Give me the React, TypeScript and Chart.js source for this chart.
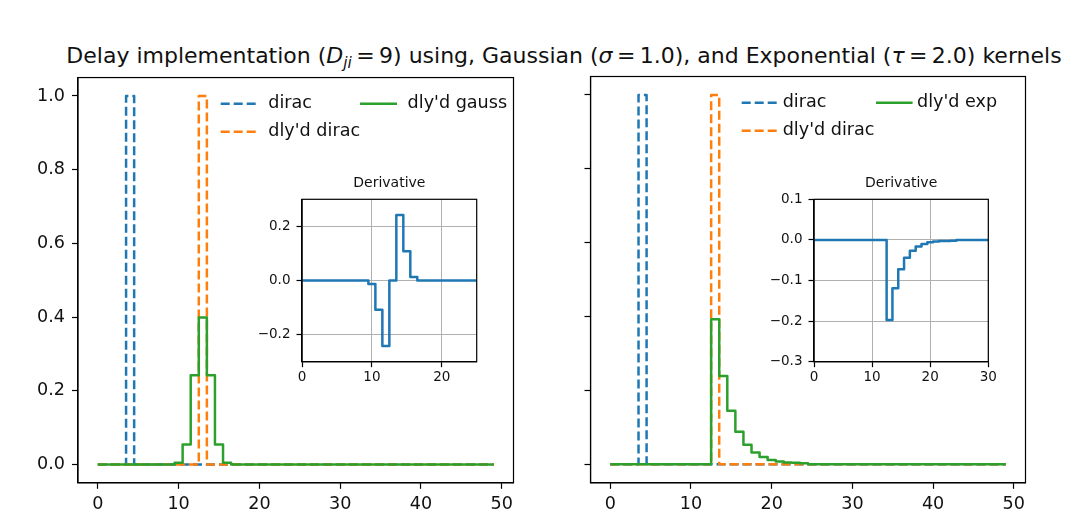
import React, { useEffect, useRef } from "react";
import { Chart, registerables } from "chart.js";

Chart.register(...registerables);

// ---------- data ----------
const steps = [
  0, 1, 2, 3, 4, 5, 6, 7, 8, 9,
  10, 11, 12, 13, 14, 15, 16, 17, 18, 19,
  20, 21, 22, 23, 24, 25, 26, 27, 28, 29,
  30, 31, 32, 33, 34, 35, 36, 37, 38, 39,
  40, 41, 42, 43, 44, 45, 46, 47, 48, 49,
];

const dirac = [
  0, 0, 0, 0, 1, 0, 0, 0, 0, 0,
  0, 0, 0, 0, 0, 0, 0, 0, 0, 0,
  0, 0, 0, 0, 0, 0, 0, 0, 0, 0,
  0, 0, 0, 0, 0, 0, 0, 0, 0, 0,
  0, 0, 0, 0, 0, 0, 0, 0, 0, 0,
];

const dlyDirac = [
  0, 0, 0, 0, 0, 0, 0, 0, 0, 0,
  0, 0, 0, 1, 0, 0, 0, 0, 0, 0,
  0, 0, 0, 0, 0, 0, 0, 0, 0, 0,
  0, 0, 0, 0, 0, 0, 0, 0, 0, 0,
  0, 0, 0, 0, 0, 0, 0, 0, 0, 0,
];

const dlyGauss = [
  0, 0, 0, 0, 0, 0, 0, 0, 0, 0,
  0.0044, 0.054, 0.242, 0.399, 0.242, 0.054, 0.0044, 0, 0, 0,
  0, 0, 0, 0, 0, 0, 0, 0, 0, 0,
  0, 0, 0, 0, 0, 0, 0, 0, 0, 0,
  0, 0, 0, 0, 0, 0, 0, 0, 0, 0,
];

const dlyExp = [
  0, 0, 0, 0, 0, 0, 0, 0, 0, 0,
  0, 0, 0, 0.393, 0.239, 0.145, 0.088, 0.053, 0.032, 0.02,
  0.012, 0.008, 0.005, 0.004, 0.003, 0, 0, 0, 0, 0,
  0, 0, 0, 0, 0, 0, 0, 0, 0, 0,
  0, 0, 0, 0, 0, 0, 0, 0, 0, 0,
];

const gaussDeriv = [
  0, 0, 0, 0, 0, 0, 0, 0, 0, 0,
  -0.013, -0.108, -0.242, 0, 0.242, 0.108, 0.013, 0, 0, 0,
  0, 0, 0, 0, 0, 0, 0, 0, 0, 0,
  0, 0, 0, 0, 0, 0, 0, 0, 0, 0,
  0, 0, 0, 0, 0, 0, 0, 0, 0, 0,
];

const expDeriv = [
  0, 0, 0, 0, 0, 0, 0, 0, 0, 0,
  0, 0, 0, -0.197, -0.119, -0.072, -0.044, -0.027, -0.016, -0.01,
  -0.006, -0.004, -0.003, -0.003, -0.002, 0, 0, 0, 0, 0,
  0, 0, 0, 0, 0, 0, 0, 0, 0, 0,
  0, 0, 0, 0, 0, 0, 0, 0, 0, 0,
];

const mainXTicks = [0, 10, 20, 30, 40, 50];
const mainYTicks = [0, 0.2, 0.4, 0.6, 0.8, 1.0];
const gaussInsetXTicks = [0, 10, 20];
const gaussInsetYTicks = [-0.2, 0, 0.2];
const expInsetXTicks = [0, 10, 20, 30];
const expInsetYTicks = [-0.3, -0.2, -0.1, 0, 0.1];

// ---------- styling ----------
const FONT = "'DejaVu Sans', 'Liberation Sans', sans-serif";
const BLUE = "#1f77b4";
const ORANGE = "#ff7f0e";
const GREEN = "#2ca02c";
const TEXT = "#111";
const DASH = [9, 4];

const fmt = (v: number) => (v < 0 ? "\u2212" : "") + Math.abs(v).toFixed(1);

function series(label: string, values: number[], color: string, dashed: boolean, order: number) {
  return {
    label,
    data: steps.map((x, i) => ({ x, y: values[i] })),
    borderColor: color,
    backgroundColor: color,
    borderWidth: 2.5,
    borderDash: dashed ? DASH : [],
    borderJoinStyle: "round",
    borderCapStyle: "butt",
    stepped: "middle",
    pointRadius: 0,
    fill: false,
    tension: 0,
    order,
  };
}

const spinesPlugin = {
  id: "spines",
  beforeDraw(chart: any, _a: any, opts: any) {
    if (!opts || !opts.fillWhite) return;
    const { ctx, chartArea: a } = chart;
    ctx.save();
    ctx.fillStyle = "#fff";
    ctx.fillRect(a.left, a.top, a.right - a.left, a.bottom - a.top);
    ctx.restore();
  },
  afterDatasetsDraw(chart: any) {
    const { ctx, chartArea: a } = chart;
    ctx.save();
    ctx.strokeStyle = "#000";
    ctx.lineWidth = 1.2;
    ctx.strokeRect(a.left, a.top, a.right - a.left, a.bottom - a.top);
    ctx.restore();
  },
};

const legendPlugin = {
  id: "mplLegend",
  afterDatasetsDraw(chart: any, _a: any, opts: any) {
    if (!opts || !opts.items) return;
    const { ctx, chartArea: a } = chart;
    opts.items.forEach((it: any) => {
      const ds = chart.data.datasets[it.dataset];
      const x0 = a.left + opts.cols[it.col];
      const y = a.top + opts.rows[it.row];
      ctx.save();
      ctx.strokeStyle = ds.borderColor;
      ctx.lineWidth = ds.borderWidth;
      ctx.setLineDash(ds.borderDash || []);
      ctx.lineCap = "butt";
      ctx.beginPath();
      ctx.moveTo(x0, y);
      ctx.lineTo(x0 + opts.handle, y);
      ctx.stroke();
      ctx.setLineDash([]);
      ctx.fillStyle = TEXT;
      ctx.font = `${opts.fontSize}px ${FONT}`;
      ctx.textBaseline = "middle";
      ctx.textAlign = "left";
      ctx.fillText(ds.label, x0 + opts.textOffset, y);
      ctx.restore();
    });
  },
};

function axis(opts: {
  min: number;
  max: number;
  ticks: number[];
  size: number;
  isX: boolean;
  fontSize: number;
  tickLen: number;
  pad: number;
  showLabels: boolean;
  grid: boolean;
  format: (v: number) => string;
}) {
  return {
    type: "linear",
    min: opts.min,
    max: opts.max,
    afterBuildTicks: (s: any) => {
      s.ticks = opts.ticks.map((v) => ({ value: v }));
    },
    afterFit: (s: any) => {
      if (opts.isX) s.height = opts.size;
      else s.width = opts.size;
    },
    grid: {
      display: true,
      drawOnChartArea: opts.grid,
      drawTicks: true,
      tickLength: opts.tickLen,
      color: "#b0b0b0",
      lineWidth: 1,
      tickColor: "#000",
      tickWidth: 1.2,
    },
    border: { display: true, color: "#000", width: 1.2 },
    ticks: {
      display: opts.showLabels,
      autoSkip: false,
      maxRotation: 0,
      minRotation: 0,
      padding: opts.pad,
      color: TEXT,
      font: { family: FONT, size: opts.fontSize },
      callback: (v: any) => opts.format(Number(v)),
    },
  };
}

function mainConfig(p: {
  datasets: any[];
  yWidth: number;
  padRight: number;
  showY: boolean;
  legend: any;
}) {
  return {
    type: "line",
    data: { datasets: p.datasets },
    plugins: [spinesPlugin, legendPlugin],
    options: {
      animation: false,
      responsive: false,
      devicePixelRatio: 1,
      events: [],
      layout: { padding: { left: 0, top: 16.5, right: p.padRight, bottom: 0 } },
      plugins: {
        legend: { display: false },
        tooltip: { enabled: false },
        title: { display: false },
        mplLegend: p.legend,
        spines: { fillWhite: false },
      },
      scales: {
        x: axis({
          min: -2.45,
          max: 51.45,
          ticks: mainXTicks,
          size: 48.2,
          isX: true,
          fontSize: 17.6,
          tickLen: 6,
          pad: 5,
          showLabels: true,
          grid: false,
          format: (v) => String(v),
        }),
        y: axis({
          min: -0.05,
          max: 1.05,
          ticks: mainYTicks,
          size: p.yWidth,
          isX: false,
          fontSize: 17.6,
          tickLen: 6,
          pad: 7,
          showLabels: p.showY,
          grid: false,
          format: fmt,
        }),
      },
    },
  };
}

function insetConfig(p: {
  values: number[];
  xMax: number;
  xTicks: number[];
  yMin: number;
  yMax: number;
  yTicks: number[];
  yWidth: number;
  padRight: number;
}) {
  return {
    type: "line",
    data: { datasets: [series("derivative", p.values, BLUE, false, 0)] },
    plugins: [spinesPlugin],
    options: {
      animation: false,
      responsive: false,
      devicePixelRatio: 1,
      events: [],
      layout: { padding: { left: 0, top: 0, right: p.padRight, bottom: 0 } },
      plugins: {
        legend: { display: false },
        tooltip: { enabled: false },
        spines: { fillWhite: true },
        title: {
          display: true,
          text: "Derivative",
          fullSize: false,
          color: TEXT,
          font: { family: FONT, size: 14, weight: "normal", lineHeight: 1.2 },
          padding: { top: 4.6, bottom: 7.9 },
        },
      },
      scales: {
        x: axis({
          min: 0,
          max: p.xMax,
          ticks: p.xTicks,
          size: 33.3,
          isX: true,
          fontSize: 13.5,
          tickLen: 5.5,
          pad: 2,
          showLabels: true,
          grid: true,
          format: (v) => String(v),
        }),
        y: axis({
          min: p.yMin,
          max: p.yMax,
          ticks: p.yTicks,
          size: p.yWidth,
          isX: false,
          fontSize: 13.5,
          tickLen: 5.5,
          pad: 6,
          showLabels: true,
          grid: true,
          format: fmt,
        }),
      },
    },
  };
}

function ChartCanvas(props: { left: number; top: number; width: number; height: number; make: () => any }) {
  const ref = useRef<HTMLCanvasElement>(null);
  useEffect(() => {
    const chart = new Chart(ref.current as HTMLCanvasElement, props.make());
    return () => chart.destroy();
  }, []);
  return (
    <canvas
      ref={ref}
      width={props.width}
      height={props.height}
      style={{ position: "absolute", left: props.left, top: props.top, width: props.width, height: props.height }}
    />
  );
}

export default function App() {
  const leftMain = () =>
    mainConfig({
      datasets: [
        series("dirac", dirac, BLUE, true, 3),
        series("dly'd dirac", dlyDirac, ORANGE, true, 2),
        series("dly'd gauss", dlyGauss, GREEN, false, 1),
      ],
      yWidth: 78,
      padRight: 26.5,
      showY: true,
      legend: {
        items: [
          { dataset: 0, col: 0, row: 0 },
          { dataset: 1, col: 0, row: 1 },
          { dataset: 2, col: 1, row: 0 },
        ],
        cols: [142.7, 282],
        rows: [26.2, 54.2],
        handle: 37,
        textOffset: 47.6,
        fontSize: 17.6,
      },
    });
  const rightMain = () =>
    mainConfig({
      datasets: [
        series("dirac", dirac, BLUE, true, 3),
        series("dly'd dirac", dlyDirac, ORANGE, true, 2),
        series("dly'd exp", dlyExp, GREEN, false, 1),
      ],
      yWidth: 50.5,
      padRight: 41.5,
      showY: false,
      legend: {
        items: [
          { dataset: 0, col: 0, row: 0 },
          { dataset: 1, col: 0, row: 1 },
          { dataset: 2, col: 1, row: 0 },
        ],
        cols: [151.2, 285.5],
        rows: [26.2, 54.2],
        handle: 36.6,
        textOffset: 41,
        fontSize: 17.6,
      },
    });
  const leftInset = () =>
    insetConfig({
      values: gaussDeriv,
      xMax: 25,
      xTicks: gaussInsetXTicks,
      yMin: -0.3,
      yMax: 0.3,
      yTicks: gaussInsetYTicks,
      yWidth: 52,
      padRight: 13.3,
    });
  const rightInset = () =>
    insetConfig({
      values: expDeriv,
      xMax: 30,
      xTicks: expInsetXTicks,
      yMin: -0.3,
      yMax: 0.1,
      yTicks: expInsetYTicks,
      yWidth: 54,
      padRight: 21.7,
    });

  const sub: React.CSSProperties = { fontSize: "0.7em", position: "relative", top: "0.3em", fontStyle: "italic" };

  return (
    <div style={{ position: "absolute", left: 0, top: 0, width: 1067, height: 531, background: "#fff", overflow: "hidden" }}>
      <div
        style={{
          position: "absolute",
          left: 564,
          top: 45,
          transform: "translateX(-50%)",
          whiteSpace: "nowrap",
          fontFamily: FONT,
          fontSize: 22,
          lineHeight: "22px",
          color: TEXT,
        }}
      >
        Delay implementation (<i>D</i>
        <span style={sub}>ji</span>
        {"\u2009=\u20099) using, Gaussian ("}
        <i>σ</i>
        {"\u2009=\u20091.0), and Exponential ("}
        <i>τ</i>
        {"\u2009=\u20092.0) kernels"}
      </div>
      <ChartCanvas left={0} top={60} width={540} height={471} make={leftMain} />
      <ChartCanvas left={540} top={60} width={527} height={471} make={rightMain} />
      <ChartCanvas left={250} top={170} width={240} height={225} make={leftInset} />
      <ChartCanvas left={760} top={170} width={250} height={225} make={rightInset} />
    </div>
  );
}
